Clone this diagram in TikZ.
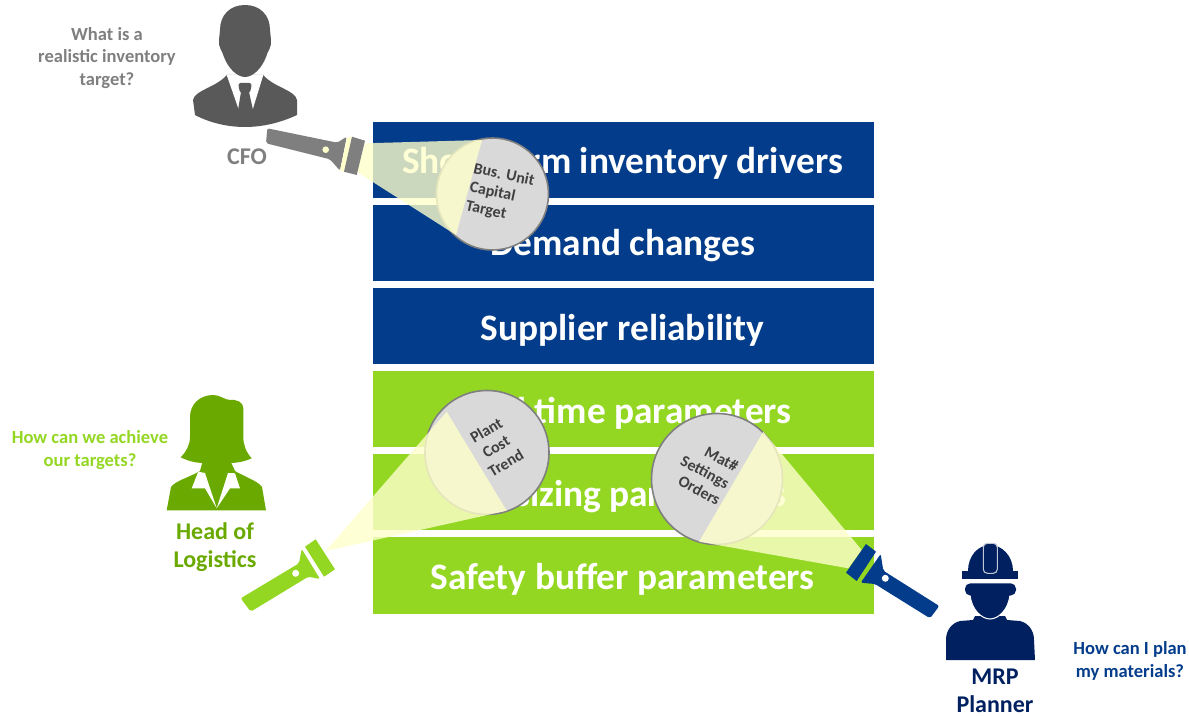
\documentclass[tikz,border=0pt]{standalone}
\usepackage{xcolor}
\usepackage{fontspec}
\setmainfont{Carlito}
\definecolor{barblue}{HTML}{033C8A}
\definecolor{bargreen}{HTML}{94D723}
\definecolor{cfogrey}{HTML}{595959}
\definecolor{torchgrey}{HTML}{7F7F7F}
\definecolor{headgreen}{HTML}{6AAA00}
\definecolor{mrpblue}{HTML}{002060}
\definecolor{beamyellow}{HTML}{FFFFCC}
\definecolor{lensgrey}{HTML}{D9D9D9}
\tikzset{
  barlabel/.style={text=white,font=\bfseries\fontsize{28}{30}\selectfont},
  rolelabel/.style={align=center,font=\bfseries\fontsize{18}{21}\selectfont},
  asklabel/.style={align=center,font=\bfseries\fontsize{13.9}{17}\selectfont},
  lenstext/.style={text=black!75,font=\bfseries\fontsize{12}{14.3}\selectfont},
  lens/.style={fill=lensgrey,draw=torchgrey,line width=1.2pt},
  beam/.style={fill=beamyellow,fill opacity=0.8},
}
\begin{document}
\begin{tikzpicture}[x=0.75pt,y=0.75pt,yscale=-1,xscale=1]
\useasboundingbox (0,0) rectangle (1189,716);
% bars
\fill [barblue] (373,122) -- (874,122) -- (874,198) -- (373,198) -- cycle ;
\fill [barblue] (373,205) -- (874,205) -- (874,281) -- (373,281) -- cycle ;
\fill [barblue] (373,288) -- (874,288) -- (874,364) -- (373,364) -- cycle ;
\fill [bargreen] (373,371) -- (874,371) -- (874,447) -- (373,447) -- cycle ;
\fill [bargreen] (373,454) -- (874,454) -- (874,530) -- (373,530) -- cycle ;
\fill [bargreen] (373,537) -- (874,537) -- (874,614) -- (373,614) -- cycle ;
\draw (622.5,163) node (shortterm) [barlabel] {Short-term inventory drivers};
\draw (622.5,246) node (demand) [barlabel] {Demand changes};
\draw (622.5,330) node (supplier) [barlabel] {Supplier reliability};
\draw (622.5,413) node (leadtime) [barlabel] {Lead time parameters};
\draw (622.5,497) node (lotsizing) [barlabel] {Lot sizing parameters};
\draw (622.5,579) node (safety) [barlabel] {Safety buffer parameters};
% lenses
\draw [lens] (492.5,194) circle (56);
\draw [lens] (487,452.5) circle (62);
\draw [lens] (717,479) circle (65.5);
\draw (500,194) node (capital) [lenstext,rotate=-12,align=left] {Bus. Unit\\Capital\\Target};
\draw (496,446.7) node (plant) [lenstext,rotate=31,align=center] {Plant\\Cost\\Trend};
\draw (705,472) node (matnr) [lenstext,rotate=-28,align=right] {Mat\#\\Settings\\Orders};
% beams
\fill [beam] (365,143.3) -- (482,140) -- (456,235) -- (356.7,171.7) -- cycle ;
\fill [beam] (325.7,551) -- (446.7,411.7) -- (506.7,510.7) -- cycle ;
\fill [beam] (861.7,550) -- (763.3,431.7) -- (699,541.7) -- (848.3,568.3) -- cycle ;
% cfo torch
\fill [torchgrey,rounded corners=1.5] (267.3,128.3) -- (337.3,142.7) -- (346.7,136.7) -- (340,170.7) -- (330,159.3) -- (266,143.3) -- cycle ;
\fill [beamyellow] (347,138) -- (352,136.7) -- (344,171.7) -- (340,170.7) -- cycle ;
\fill [torchgrey] (352,136.7) -- (365,140.7) -- (356.7,175) -- (344,171.7) -- cycle ;
\fill [beamyellow] (325.7,149.7) circle (3.3);
% logistics torch
\fill [bargreen,rounded corners=1.5] (240.7,598.3) -- (299,563.3) -- (301.7,549) -- (320,579) -- (308.3,576.7) -- (250.7,611.7) -- cycle ;
\fill [bargreen] (315.7,539.3) -- (335,569.3) -- (324,576.7) -- (305,546.7) -- cycle ;
\fill [white] (295.7,573.3) circle (3.5);
% mrp torch
\fill [barblue,rounded corners=1.5] (939.3,606) -- (883.3,570.7) -- (880.7,554) -- (860.7,582.7) -- (875,584) -- (930,618.3) -- cycle ;
\fill [barblue] (866,544) -- (876,551.7) -- (856.7,581) -- (846,572.7) -- cycle ;
\fill [white] (885.3,578.3) circle (3.5);
% cfo
\fill [cfogrey] (193,100) .. controls (195,90) and (215,88) .. (227,75) -- (263,75) .. controls (275,88) and (295,90) .. (297,100) -- (297,115) .. controls (280,123) and (262,127) .. (245,127) .. controls (228,127) and (210,123) .. (195,115) -- cycle ;
\fill [white] (226.7,75) -- (238.7,109.5) -- (252.7,109.5) -- (263.3,75) -- cycle ;
\fill [cfogrey] (245,5) .. controls (230,5) and (220,15) .. (220,30) -- (219,40) .. controls (218,47) and (222,50) .. (224,57) .. controls (228,68) and (237,77) .. (245,77) .. controls (253,77) and (262,68) .. (266,57) .. controls (268,50) and (272,47) .. (271,40) -- (270,30) .. controls (270,15) and (260,5) .. (245,5) -- cycle ;
\fill [cfogrey,rounded corners=2] (238,83) -- (252,83) -- (250,93) -- (240,93) -- cycle ;
\fill [cfogrey] (241,92) -- (249,92) -- (253,110) -- (238,110) -- cycle ;
\draw (247,157) node (cfo) [rolelabel,text=torchgrey] {CFO};
\draw (107,58) node (cfoask) [asklabel,text=torchgrey] {What is a\\realistic inventory\\target?};
% head of logistics
\fill [headgreen] (213.3,395) .. controls (200,395) and (190,404) .. (190,417) -- (190,437) .. controls (190,445) and (186,452) .. (180.7,457.3) .. controls (188,461) and (196,463) .. (203,463) -- (230,463) .. controls (238,463) and (246,461) .. (251.7,458.3) .. controls (246,452) and (243.3,445) .. (243.3,437) -- (243.3,408) .. controls (243.3,402) and (236,399) .. (230,400) .. controls (225,400) and (220,395) .. (213.3,395) -- cycle ;
\fill [headgreen] (166.7,510.3) -- (171,487) .. controls (175,481) and (190,477) .. (200,471) -- (203,460) -- (230,460) -- (235,471) .. controls (245,477) and (258,481) .. (262,487) -- (266,510.3) -- cycle ;
\fill [white] (198.3,471.7) -- (191.7,488.3) -- (205,488.3) -- (216.7,508.3) -- (205,473) -- cycle ;
\fill [white] (235,473.3) -- (240,488.3) -- (230,488.3) -- (216.7,508.3) -- (228,473) -- cycle ;
\draw (215,547) node (logistics) [rolelabel,text=headgreen] {Head of\\Logistics};
\draw (90,450) node (logisticsask) [asklabel,text=bargreen] {How can we achieve\\our targets?};
% mrp planner
\fill [mrpblue] (946,660) -- (946,640) .. controls (946,630) and (952,623) .. (960,621) -- (973,620) -- (975,616) -- (1005,616) -- (1007,620) -- (1020,621) .. controls (1028,623) and (1034,630) .. (1034,640) -- (1035,660) -- cycle ;
\draw [white,fill=mrpblue,line width=0.8pt] (970,594) .. controls (971,610) and (982,619) .. (990,619) .. controls (998,619) and (1009,610) .. (1010,594) -- cycle ;
\fill [mrpblue,rounded corners=4] (965,583.3) -- (1016,583.3) -- (1016,595.5) -- (965,595.5) -- cycle ;
\fill [mrpblue] (968,571) .. controls (968,556) and (978,545) .. (990,545) .. controls (1002,545) and (1013,556) .. (1013,571) -- cycle ;
\fill [mrpblue] (962.3,570.7) -- (1018.3,570.7) -- (1018.3,579) -- (962.3,579) -- cycle ;
\draw [white!75!mrpblue,fill=mrpblue,line width=0.8pt,rounded corners=3] (983.3,543.3) -- (997.3,543.3) -- (997.3,573.3) -- (983.3,573.3) -- cycle ;
\draw (995,691) node (planner) [rolelabel,text=mrpblue] {MRP\\Planner};
\draw (1130,661) node (plannerask) [asklabel,text=barblue] {How can I plan\\my materials?};
\end{tikzpicture}
\end{document}
